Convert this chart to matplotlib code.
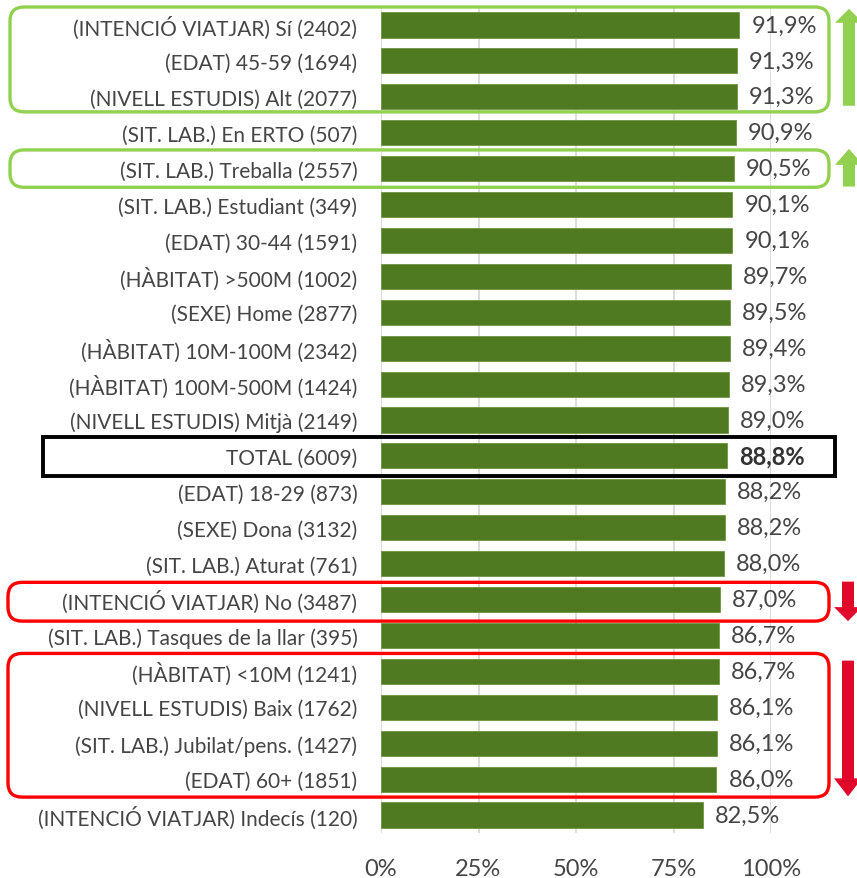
import matplotlib
matplotlib.use("Agg")
import matplotlib.pyplot as plt
from matplotlib.patches import FancyBboxPatch, FancyArrow
from matplotlib.transforms import IdentityTransform

plt.rcParams['font.family'] = ['Lato', 'DejaVu Sans']

categories = [
    "(INTENCIÓ VIATJAR) Sí (2402)",
    "(EDAT) 45-59 (1694)",
    "(NIVELL ESTUDIS) Alt (2077)",
    "(SIT. LAB.) En ERTO (507)",
    "(SIT. LAB.) Treballa (2557)",
    "(SIT. LAB.) Estudiant (349)",
    "(EDAT) 30-44 (1591)",
    "(HÀBITAT) >500M (1002)",
    "(SEXE) Home (2877)",
    "(HÀBITAT) 10M-100M (2342)",
    "(HÀBITAT) 100M-500M (1424)",
    "(NIVELL ESTUDIS) Mitjà (2149)",
    "TOTAL (6009)",
    "(EDAT) 18-29 (873)",
    "(SEXE) Dona (3132)",
    "(SIT. LAB.) Aturat (761)",
    "(INTENCIÓ VIATJAR) No (3487)",
    "(SIT. LAB.) Tasques de la llar (395)",
    "(HÀBITAT) <10M (1241)",
    "(NIVELL ESTUDIS) Baix (1762)",
    "(SIT. LAB.) Jubilat/pens. (1427)",
    "(EDAT) 60+ (1851)",
    "(INTENCIÓ VIATJAR) Indecís (120)",
]
values = [91.9, 91.3, 91.3, 90.9, 90.5, 90.1, 90.1, 89.7, 89.5, 89.4, 89.3, 89.0,
          88.8, 88.2, 88.2, 88.0, 87.0, 86.7, 86.7, 86.1, 86.1, 86.0, 82.5]
xticks = [0, 25, 50, 75, 100]
xtick_labels = ["0%", "25%", "50%", "75%", "100%"]
total_label = "TOTAL (6009)"

W, H = 857, 879
fig = plt.figure(figsize=(W / 100, H / 100), dpi=100)
ax = fig.add_axes([381 / W, 1 - 834 / H, 390 / W, 826 / H])

TXT = "#454545"
BAR = "#4F7A21"
GRID = "#D9D9D9"
LGREEN = "#92D050"
RED = "#FF0000"
DRED = "#E0092A"

ypos = list(range(len(categories)))
ax.barh(ypos, values, height=0.7, color=BAR, edgecolor="#6F9445", linewidth=0.6, zorder=3)
ax.set_xlim(0, 100)
ax.set_ylim(len(categories) - 0.5, -0.5)
ax.set_yticks(ypos)
ax.set_yticklabels(categories, fontsize=15, color=TXT)
ax.set_xticks(xticks)
ax.set_xticklabels(xtick_labels, fontsize=17, color=TXT)
ax.tick_params(axis="y", length=0, pad=17)
ax.tick_params(axis="x", length=0, pad=18)
for s in ax.spines.values():
    s.set_visible(False)
ax.grid(axis="x", color=GRID, linewidth=1.3, zorder=0)
ax.set_axisbelow(True)

for y, v, c in zip(ypos, values, categories):
    bold = c == total_label
    ax.annotate(f"{v:.1f}%".replace(".", ","), (v, y), xytext=(12, 0),
                textcoords="offset pixels", va="center", ha="left",
                fontsize=17, color="#333333" if bold else TXT,
                fontweight="bold" if bold else "normal")

fig.canvas.draw()


def ypx(row):
    # display y (pixels from bottom) for a row position
    return ax.transData.transform((0, row))[1]


def box(x0, x1, r0, r1, color, lw, rounded=True):
    y_top = ypx(r0)
    y_bot = ypx(r1)
    style = "round,pad=0,rounding_size=14" if rounded else "square,pad=0"
    p = FancyBboxPatch((x0, y_bot), x1 - x0, y_top - y_bot, boxstyle=style,
                       transform=IdentityTransform(), facecolor="none",
                       edgecolor=color, linewidth=lw, zorder=10)
    fig.patches.append(p)


def arrow(xc, r_from, r_to, color, head_len=14, shaft=12, head=28):
    y0 = ypx(r_from)
    y1 = ypx(r_to)
    dy = y1 - y0
    a = FancyArrow(xc, y0, 0, dy, width=shaft, head_width=head, head_length=head_len,
                   length_includes_head=True, transform=IdentityTransform(),
                   color=color, linewidth=0, zorder=10)
    fig.patches.append(a)


box(10, 829, -0.5, 2.42, LGREEN, 2.4)
box(10, 829, 3.48, 4.52, LGREEN, 2.4)
box(43, 835, 11.47, 12.55, "black", 2.8, rounded=False)
box(8, 829, 15.52, 16.6, RED, 2.4)
box(8, 829, 17.5, 21.5, RED, 2.4)

arrow(849, 2.25, -0.45, LGREEN)
arrow(849, 4.5, 3.45, LGREEN, head_len=16)
arrow(848, 15.5, 16.6, DRED, head_len=14)
arrow(848, 17.7, 21.48, DRED, head_len=18)

fig.savefig("out.png", dpi=100)
